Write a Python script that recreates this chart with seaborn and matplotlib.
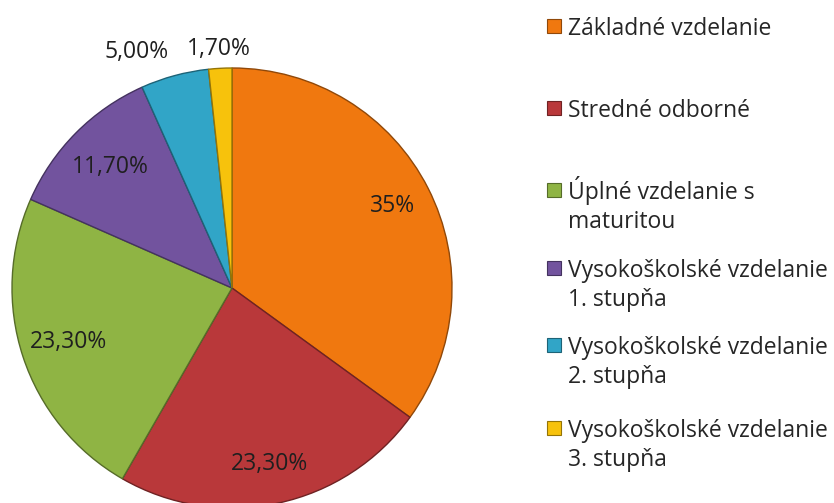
import numpy as np
import seaborn as sns
import matplotlib.pyplot as plt
from matplotlib.patches import Rectangle
from matplotlib.colors import to_rgb

# data
categories = ["Základné vzdelanie", "Stredné odborné", "Úplné vzdelanie s\nmaturitou",
              "Vysokoškolské vzdelanie\n1. stupňa", "Vysokoškolské vzdelanie\n2. stupňa",
              "Vysokoškolské vzdelanie\n3. stupňa"]
shares = [35.0, 23.3, 23.3, 11.7, 5.0, 1.7]
pct_labels = ["35%", "23,30%", "23,30%", "11,70%", "5,00%", "1,70%"]
colors = ["#F0780F", "#B9383A", "#8FB444", "#72539E", "#31A5C7", "#F7C20C"]

sns.set_theme(style="white")
plt.rcParams["font.family"] = ["Open Sans", "DejaVu Sans"]

W, H = 834, 503
fig = plt.figure(figsize=(W / 100, H / 100), dpi=100)
fig.patch.set_facecolor("white")

# pie centre (232, 288) px, radius 220 px
cx, cy, R = 232, 288, 220
ax = fig.add_axes([(cx - R) / W, (H - cy - R) / H, 2 * R / W, 2 * R / H])

edge = [tuple(c * 0.6 for c in to_rgb(col)) for col in colors]
wedges, _ = ax.pie(shares, colors=colors, startangle=90, counterclock=False,
                   radius=1, wedgeprops=dict(linewidth=1.0))
for w, ec in zip(wedges, edge):
    w.set_edgecolor(ec)
ax.set_xlim(-1, 1)
ax.set_ylim(-1, 1)
ax.set_aspect("equal")
ax.axis("off")

# label distances (inside labels ~0.8 R, the two thin slices outside)
dist = [0.82, 0.82, 0.78, 0.78, 1.11, 1.09]
align = ["center", "center", "center", "center", "right", "center"]
for w, lab, d, ha in zip(wedges, pct_labels, dist, align):
    ang = np.deg2rad((w.theta1 + w.theta2) / 2)
    ax.text(d * np.cos(ang), d * np.sin(ang), lab, ha=ha, va="center",
            fontsize=16.5, color="#1f1f1f", clip_on=False)

# legend drawn to the right, baselines measured in px
first_baseline = [35, 117, 199, 277, 354, 437]
line_gap = 29
for col, ec, txt, base in zip(colors, edge, categories, first_baseline):
    fig.patches.append(Rectangle(((547) / W, (H - base + 2) / H), 14 / W, 14 / H,
                                 transform=fig.transFigure, facecolor=col,
                                 edgecolor=ec, linewidth=0.8))
    for i, line in enumerate(txt.split("\n")):
        fig.text(568 / W, (H - base - i * line_gap) / H, line, ha="left",
                 va="baseline", fontsize=16.5, color="#262626")

fig.savefig("out.png", dpi=100)
